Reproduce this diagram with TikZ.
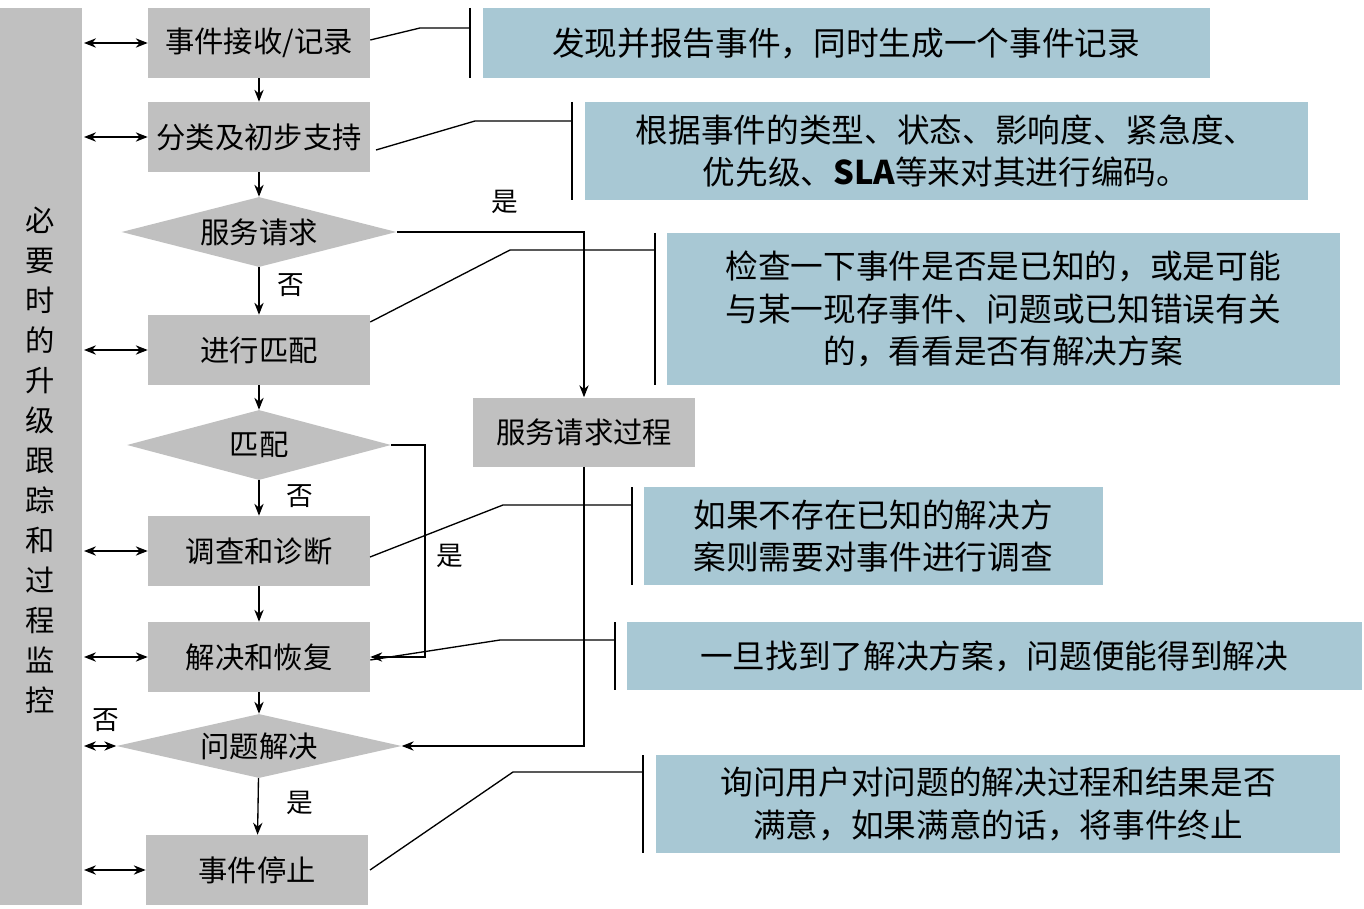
\documentclass[tikz,border=0pt]{standalone}
\usepackage{fontspec}
\setmainfont{Noto Sans CJK SC}
\usetikzlibrary{shapes.geometric,arrows.meta}
\definecolor{gbox}{RGB}{192,192,192}
\definecolor{bbox}{RGB}{168,200,212}
\begin{document}
\begin{tikzpicture}[x=0.75pt,y=-0.75pt,
  gr/.style={fill=gbox,draw=none,inner sep=0pt,font=\fontsize{22}{26}\selectfont},
  bx/.style={minimum width={222*0.75pt},minimum height={70*0.75pt}},
  bl/.style={fill=bbox,draw=none,inner sep=0pt,font=\fontsize{24.5}{32}\selectfont,align=center},
  lb/.style={font=\fontsize{20}{22}\selectfont},
  ar/.style={-{Stealth[length=9pt,width=7pt]},line width=1pt},
  dar/.style={{Stealth[length=9pt,width=7pt]}-{Stealth[length=9pt,width=7pt]},line width=1pt},
  ln/.style={line width=1pt}]
\useasboundingbox (0,0) rectangle (1364,909);
% left bar
\fill[gbox] (0,8) rectangle (82,905);
\node[font=\fontsize{22}{30}\selectfont,align=center] (side) at (40,460) {必\\要\\时\\的\\升\\级\\跟\\踪\\和\\过\\程\\监\\控};
% grey boxes
\node[gr,bx] (a) at (259,43) {事件接收/记录};
\node[gr,bx] (b) at (259,137) {分类及初步支持};
\node[gr,diamond,aspect=3.9,minimum width={275*0.75pt},minimum height={70*0.75pt}] (c) at (259,232) {服务请求};
\node[gr,bx] (d) at (259,350) {进行匹配};
\node[gr,diamond,aspect=3.8,minimum width={264*0.75pt},minimum height={70*0.75pt}] (e) at (259,445) {匹配};
\node[gr,bx] (f) at (259,551) {调查和诊断};
\node[gr,bx] (g) at (259,657) {解决和恢复};
\node[gr,diamond,aspect=4.5,minimum width={285*0.75pt},minimum height={64*0.75pt}] (h) at (259,746) {问题解决};
\node[gr,bx] (i) at (257,870) {事件停止};
\node[gr,bx,minimum height={69*0.75pt}] (s) at (584,432) {服务请求过程};
% blue boxes
\node[bl,minimum width={727*0.75pt},minimum height={70*0.75pt}] (b1) at (846,43) {发现并报告事件，同时生成一个事件记录};
\node[bl,minimum width={723*0.75pt},minimum height={98*0.75pt}] (b2) at (946,151) {根据事件的类型、状态、影响度、紧急度、\\优先级、\textbf{SLA}等来对其进行编码。};
\node[bl,minimum width={673*0.75pt},minimum height={152*0.75pt}] (b3) at (1003,309) {检查一下事件是否是已知的，或是可能\\与某一现存事件、问题或已知错误有关\\的，看看是否有解决方案};
\node[bl,minimum width={459*0.75pt},minimum height={98*0.75pt},align=left] (b4) at (873,536) {如果不存在已知的解决方\\案则需要对事件进行调查};
\node[bl,minimum width={735*0.75pt},minimum height={68*0.75pt}] (b5) at (994,656) {一旦找到了解决方案，问题便能得到解决};
\node[bl,minimum width={684*0.75pt},minimum height={98*0.75pt}] (b6) at (998,804) {询问用户对问题的解决过程和结果是否\\满意，如果满意的话，将事件终止};
% callouts
\draw[ln] (470,8)--(470,78); \draw[ln] (a.east)++(0,-3) -- (420,28)--(470,28);
\draw[ln] (572,102)--(572,200); \draw[ln] (376,150)--(475,121)--(572,121);
\draw[ln] (655,233)--(655,385); \draw[ln] (d.east)++(0,-28) -- (510,250)--(655,250);
\draw[ln] (632,487)--(632,585); \draw[ln] (370,557)--(503,505)--(632,505);
\draw[ln] (615,622)--(615,690); \draw[ln] (g.east)++(0,3) -- (500,640)--(615,640);
\draw[ln] (643,755)--(643,853); \draw[ln] (370,870)--(513,772)--(643,772);
% side arrows
\foreach \n/\y in {a/43,b/137,d/350,f/551,g/657,i/870}{
  \coordinate (l\n) at (84,\y);
  \draw[dar] (l\n) -- (\n.west|-l\n);}
\coordinate (lh) at (84,746);
\draw[dar] (lh) -- (h.west);
\node[lb] (n0) at (106,720) {否};
% flow
\draw[ar] (a) -- (b);
\draw[ar] (b) -- (c);
\draw[ar] (c) -- (d); \node[lb] (n1) at (291,285) {否};
\draw[ar] (d) -- (e);
\draw[ar] (e) -- (f); \node[lb] (n2) at (300,496) {否};
\draw[ar] (f) -- (g);
\draw[ar] (g) -- (h);
\draw[ar] (h) -- (i); \node[lb] (y1) at (300,803) {是};
\draw[ar] (c.east) -- (584,232) -- (s.north); \node[lb] (y2) at (505,202) {是};
\draw[ar] (e.east) -- (425,445) -- (425,657) -- (g.east); \node[lb] (y3) at (450,556) {是};
\draw[ar] (s.south) -- (584,746) -- (h.east);
\end{tikzpicture}
\end{document}
